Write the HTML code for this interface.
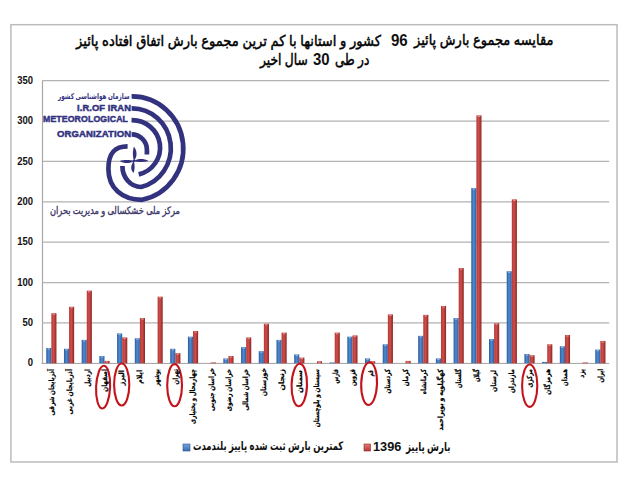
<!DOCTYPE html>
<html><head><meta charset="utf-8">
<style>
html,body{margin:0;padding:0;background:#fff;}
body{width:640px;height:482px;position:relative;overflow:hidden;}
.t{position:absolute;white-space:nowrap;line-height:20px;font-family:"Liberation Sans","DejaVu Sans",sans-serif;}
.lab{position:absolute;white-space:nowrap;direction:rtl;text-align:right;font-family:"Liberation Sans","DejaVu Sans",sans-serif;font-weight:bold;font-size:7.4px;line-height:8px;height:8px;color:#000;-webkit-text-stroke:0.2px #000;transform-origin:100% 0;}
.ya{position:absolute;width:30px;text-align:right;font-family:"Liberation Sans",sans-serif;font-weight:bold;font-size:10.4px;line-height:10px;color:#111;transform:scaleX(0.91);transform-origin:100% 0;}
</style></head><body>

<svg width="640" height="482" viewBox="0 0 640 482" style="position:absolute;left:0;top:0"><defs>
<linearGradient id="gb" x1="0" x2="1" y1="0" y2="0">
<stop offset="0" stop-color="#2b5a98"/><stop offset="0.45" stop-color="#4f8ad0"/><stop offset="1" stop-color="#30619f"/></linearGradient>
<linearGradient id="gr" x1="0" x2="1" y1="0" y2="0">
<stop offset="0" stop-color="#b23a37"/><stop offset="0.45" stop-color="#d04d4a"/><stop offset="1" stop-color="#8a2725"/></linearGradient>
<linearGradient id="gbl" x1="0" x2="0" y1="0" y2="1"><stop offset="0" stop-color="#7aa6dc"/><stop offset="1" stop-color="#3a6cb0"/></linearGradient>
<linearGradient id="grl" x1="0" x2="0" y1="0" y2="1"><stop offset="0" stop-color="#e07a78"/><stop offset="1" stop-color="#b43a37"/></linearGradient>
</defs><rect x="10.9" y="24.7" width="606.1" height="437.3" fill="none" stroke="#bcbcbc" stroke-width="1.5"/><line x1="42.5" y1="80.71" x2="609.2" y2="80.71" stroke="#b2b2b2" stroke-width="1.3"/><line x1="131" y1="121.08" x2="609.2" y2="121.08" stroke="#b2b2b2" stroke-width="1.3"/><line x1="42.5" y1="161.45" x2="609.2" y2="161.45" stroke="#b2b2b2" stroke-width="1.3"/><line x1="42.5" y1="201.82" x2="609.2" y2="201.82" stroke="#b2b2b2" stroke-width="1.3"/><line x1="42.5" y1="242.19" x2="609.2" y2="242.19" stroke="#b2b2b2" stroke-width="1.3"/><line x1="42.5" y1="282.56" x2="609.2" y2="282.56" stroke="#b2b2b2" stroke-width="1.3"/><line x1="42.5" y1="322.93" x2="609.2" y2="322.93" stroke="#b2b2b2" stroke-width="1.3"/><line x1="42.5" y1="80.5" x2="42.5" y2="363.3" stroke="#a8a8a8" stroke-width="1.2"/><line x1="41.5" y1="363.40000000000003" x2="609.2" y2="363.40000000000003" stroke="#a0a0a0" stroke-width="1"/><rect x="46.25" y="347.96" width="5.1" height="15.34" fill="url(#gb)"/><rect x="47.55" y="348.36" width="2.50" height="1.2" fill="#9cc0ea" opacity="0.8"/><rect x="51.35" y="313.24" width="5.1" height="50.06" fill="url(#gr)"/><rect x="52.65" y="313.64" width="2.50" height="1.2" fill="#ec9a98" opacity="0.8"/><rect x="63.96" y="348.77" width="5.1" height="14.53" fill="url(#gb)"/><rect x="65.26" y="349.17" width="2.50" height="1.2" fill="#9cc0ea" opacity="0.8"/><rect x="69.06" y="306.78" width="5.1" height="56.52" fill="url(#gr)"/><rect x="70.36" y="307.18" width="2.50" height="1.2" fill="#ec9a98" opacity="0.8"/><rect x="81.67" y="339.89" width="5.1" height="23.41" fill="url(#gb)"/><rect x="82.97" y="340.29" width="2.50" height="1.2" fill="#9cc0ea" opacity="0.8"/><rect x="86.77" y="290.63" width="5.1" height="72.67" fill="url(#gr)"/><rect x="88.07" y="291.03" width="2.50" height="1.2" fill="#ec9a98" opacity="0.8"/><rect x="99.38" y="356.03" width="5.1" height="7.27" fill="url(#gb)"/><rect x="100.68" y="356.43" width="2.50" height="1.2" fill="#9cc0ea" opacity="0.8"/><rect x="104.48" y="360.88" width="5.1" height="2.42" fill="url(#gr)"/><rect x="105.78" y="361.28" width="2.50" height="1.2" fill="#ec9a98" opacity="0.8"/><rect x="117.09" y="333.43" width="5.1" height="29.87" fill="url(#gb)"/><rect x="118.39" y="333.83" width="2.50" height="1.2" fill="#9cc0ea" opacity="0.8"/><rect x="122.19" y="337.46" width="5.1" height="25.84" fill="url(#gr)"/><rect x="123.49" y="337.86" width="2.50" height="1.2" fill="#ec9a98" opacity="0.8"/><rect x="134.80" y="338.27" width="5.1" height="25.03" fill="url(#gb)"/><rect x="136.10" y="338.67" width="2.50" height="1.2" fill="#9cc0ea" opacity="0.8"/><rect x="139.90" y="318.09" width="5.1" height="45.21" fill="url(#gr)"/><rect x="141.20" y="318.49" width="2.50" height="1.2" fill="#ec9a98" opacity="0.8"/><rect x="157.61" y="296.69" width="5.1" height="66.61" fill="url(#gr)"/><rect x="158.91" y="297.09" width="2.50" height="1.2" fill="#ec9a98" opacity="0.8"/><rect x="170.22" y="348.77" width="5.1" height="14.53" fill="url(#gb)"/><rect x="171.52" y="349.17" width="2.50" height="1.2" fill="#9cc0ea" opacity="0.8"/><rect x="175.32" y="353.21" width="5.1" height="10.09" fill="url(#gr)"/><rect x="176.62" y="353.61" width="2.50" height="1.2" fill="#ec9a98" opacity="0.8"/><rect x="187.93" y="336.66" width="5.1" height="26.64" fill="url(#gb)"/><rect x="189.23" y="337.06" width="2.50" height="1.2" fill="#9cc0ea" opacity="0.8"/><rect x="193.03" y="331.00" width="5.1" height="32.30" fill="url(#gr)"/><rect x="194.33" y="331.40" width="2.50" height="1.2" fill="#ec9a98" opacity="0.8"/><rect x="210.74" y="362.49" width="5.1" height="0.81" fill="url(#gr)"/><rect x="223.35" y="358.46" width="5.1" height="4.84" fill="url(#gb)"/><rect x="224.65" y="358.86" width="2.50" height="1.2" fill="#9cc0ea" opacity="0.8"/><rect x="228.45" y="356.03" width="5.1" height="7.27" fill="url(#gr)"/><rect x="229.75" y="356.43" width="2.50" height="1.2" fill="#ec9a98" opacity="0.8"/><rect x="241.06" y="347.15" width="5.1" height="16.15" fill="url(#gb)"/><rect x="242.36" y="347.55" width="2.50" height="1.2" fill="#9cc0ea" opacity="0.8"/><rect x="246.16" y="337.46" width="5.1" height="25.84" fill="url(#gr)"/><rect x="247.46" y="337.86" width="2.50" height="1.2" fill="#ec9a98" opacity="0.8"/><rect x="258.77" y="351.19" width="5.1" height="12.11" fill="url(#gb)"/><rect x="260.07" y="351.59" width="2.50" height="1.2" fill="#9cc0ea" opacity="0.8"/><rect x="263.87" y="323.74" width="5.1" height="39.56" fill="url(#gr)"/><rect x="265.17" y="324.14" width="2.50" height="1.2" fill="#ec9a98" opacity="0.8"/><rect x="276.48" y="339.89" width="5.1" height="23.41" fill="url(#gb)"/><rect x="277.78" y="340.29" width="2.50" height="1.2" fill="#9cc0ea" opacity="0.8"/><rect x="281.58" y="332.62" width="5.1" height="30.68" fill="url(#gr)"/><rect x="282.88" y="333.02" width="2.50" height="1.2" fill="#ec9a98" opacity="0.8"/><rect x="294.19" y="354.42" width="5.1" height="8.88" fill="url(#gb)"/><rect x="295.49" y="354.82" width="2.50" height="1.2" fill="#9cc0ea" opacity="0.8"/><rect x="299.29" y="357.65" width="5.1" height="5.65" fill="url(#gr)"/><rect x="300.59" y="358.05" width="2.50" height="1.2" fill="#ec9a98" opacity="0.8"/><rect x="317.00" y="361.28" width="5.1" height="2.02" fill="url(#gr)"/><rect x="318.30" y="361.68" width="2.50" height="1.2" fill="#ec9a98" opacity="0.8"/><rect x="329.61" y="362.49" width="5.1" height="0.81" fill="url(#gb)"/><rect x="334.71" y="332.62" width="5.1" height="30.68" fill="url(#gr)"/><rect x="336.01" y="333.02" width="2.50" height="1.2" fill="#ec9a98" opacity="0.8"/><rect x="347.32" y="336.66" width="5.1" height="26.64" fill="url(#gb)"/><rect x="348.62" y="337.06" width="2.50" height="1.2" fill="#9cc0ea" opacity="0.8"/><rect x="352.42" y="335.44" width="5.1" height="27.86" fill="url(#gr)"/><rect x="353.72" y="335.84" width="2.50" height="1.2" fill="#ec9a98" opacity="0.8"/><rect x="365.03" y="358.46" width="5.1" height="4.84" fill="url(#gb)"/><rect x="366.33" y="358.86" width="2.50" height="1.2" fill="#9cc0ea" opacity="0.8"/><rect x="370.13" y="361.28" width="5.1" height="2.02" fill="url(#gr)"/><rect x="371.43" y="361.68" width="2.50" height="1.2" fill="#ec9a98" opacity="0.8"/><rect x="382.74" y="344.33" width="5.1" height="18.97" fill="url(#gb)"/><rect x="384.04" y="344.73" width="2.50" height="1.2" fill="#9cc0ea" opacity="0.8"/><rect x="387.84" y="314.45" width="5.1" height="48.85" fill="url(#gr)"/><rect x="389.14" y="314.85" width="2.50" height="1.2" fill="#ec9a98" opacity="0.8"/><rect x="405.55" y="360.88" width="5.1" height="2.42" fill="url(#gr)"/><rect x="406.85" y="361.28" width="2.50" height="1.2" fill="#ec9a98" opacity="0.8"/><rect x="418.16" y="335.85" width="5.1" height="27.45" fill="url(#gb)"/><rect x="419.46" y="336.25" width="2.50" height="1.2" fill="#9cc0ea" opacity="0.8"/><rect x="423.26" y="314.86" width="5.1" height="48.44" fill="url(#gr)"/><rect x="424.56" y="315.26" width="2.50" height="1.2" fill="#ec9a98" opacity="0.8"/><rect x="435.87" y="358.46" width="5.1" height="4.84" fill="url(#gb)"/><rect x="437.17" y="358.86" width="2.50" height="1.2" fill="#9cc0ea" opacity="0.8"/><rect x="440.97" y="305.97" width="5.1" height="57.33" fill="url(#gr)"/><rect x="442.27" y="306.37" width="2.50" height="1.2" fill="#ec9a98" opacity="0.8"/><rect x="453.58" y="318.09" width="5.1" height="45.21" fill="url(#gb)"/><rect x="454.88" y="318.49" width="2.50" height="1.2" fill="#9cc0ea" opacity="0.8"/><rect x="458.68" y="268.03" width="5.1" height="95.27" fill="url(#gr)"/><rect x="459.98" y="268.43" width="2.50" height="1.2" fill="#ec9a98" opacity="0.8"/><rect x="471.29" y="188.09" width="5.1" height="175.21" fill="url(#gb)"/><rect x="472.59" y="188.49" width="2.50" height="1.2" fill="#9cc0ea" opacity="0.8"/><rect x="476.39" y="115.43" width="5.1" height="247.87" fill="url(#gr)"/><rect x="477.69" y="115.83" width="2.50" height="1.2" fill="#ec9a98" opacity="0.8"/><rect x="489.00" y="339.08" width="5.1" height="24.22" fill="url(#gb)"/><rect x="490.30" y="339.48" width="2.50" height="1.2" fill="#9cc0ea" opacity="0.8"/><rect x="494.10" y="323.33" width="5.1" height="39.97" fill="url(#gr)"/><rect x="495.40" y="323.73" width="2.50" height="1.2" fill="#ec9a98" opacity="0.8"/><rect x="506.71" y="271.26" width="5.1" height="92.04" fill="url(#gb)"/><rect x="508.01" y="271.66" width="2.50" height="1.2" fill="#9cc0ea" opacity="0.8"/><rect x="511.81" y="199.40" width="5.1" height="163.90" fill="url(#gr)"/><rect x="513.11" y="199.80" width="2.50" height="1.2" fill="#ec9a98" opacity="0.8"/><rect x="524.42" y="354.01" width="5.1" height="9.29" fill="url(#gb)"/><rect x="525.72" y="354.41" width="2.50" height="1.2" fill="#9cc0ea" opacity="0.8"/><rect x="529.52" y="355.23" width="5.1" height="8.07" fill="url(#gr)"/><rect x="530.82" y="355.63" width="2.50" height="1.2" fill="#ec9a98" opacity="0.8"/><rect x="542.13" y="361.93" width="5.1" height="1.37" fill="url(#gb)"/><rect x="547.23" y="344.33" width="5.1" height="18.97" fill="url(#gr)"/><rect x="548.53" y="344.73" width="2.50" height="1.2" fill="#ec9a98" opacity="0.8"/><rect x="559.84" y="346.34" width="5.1" height="16.96" fill="url(#gb)"/><rect x="561.14" y="346.74" width="2.50" height="1.2" fill="#9cc0ea" opacity="0.8"/><rect x="564.94" y="335.04" width="5.1" height="28.26" fill="url(#gr)"/><rect x="566.24" y="335.44" width="2.50" height="1.2" fill="#ec9a98" opacity="0.8"/><rect x="582.65" y="362.49" width="5.1" height="0.81" fill="url(#gr)"/><rect x="595.26" y="349.57" width="5.1" height="13.73" fill="url(#gb)"/><rect x="596.56" y="349.97" width="2.50" height="1.2" fill="#9cc0ea" opacity="0.8"/><rect x="600.36" y="340.94" width="5.1" height="22.36" fill="url(#gr)"/><rect x="601.66" y="341.34" width="2.50" height="1.2" fill="#ec9a98" opacity="0.8"/><ellipse cx="103.1" cy="387.1" rx="7.0" ry="21.4" fill="none" stroke="#c4141b" stroke-width="2.1" transform="rotate(2.4 103.1 387.1)"/><ellipse cx="121.7" cy="384.5" rx="7.6" ry="21.0" fill="none" stroke="#c4141b" stroke-width="2.1" transform="rotate(0 121.7 384.5)"/><ellipse cx="174.6" cy="385.2" rx="7.4" ry="21.1" fill="none" stroke="#c4141b" stroke-width="2.1" transform="rotate(0 174.6 385.2)"/><ellipse cx="299.3" cy="385.0" rx="7.699999999999999" ry="21.3" fill="none" stroke="#c4141b" stroke-width="2.1" transform="rotate(1.5 299.3 385.0)"/><ellipse cx="369.1" cy="383.6" rx="7.9" ry="21.4" fill="none" stroke="#c4141b" stroke-width="2.1" transform="rotate(1.7 369.1 383.6)"/><ellipse cx="529.7" cy="385.7" rx="7.6" ry="21.2" fill="none" stroke="#c4141b" stroke-width="2.1" transform="rotate(0 529.7 385.7)"/><rect x="183" y="444" width="7" height="7" fill="url(#gbl)" stroke="#2a5490" stroke-width="0.6"/><rect x="364" y="444" width="6.5" height="7" fill="url(#grl)" stroke="#8c2624" stroke-width="0.6"/><path d="M131.6 96.4 A51.25 52.2 0 0 1 142 199.8 C122 199.8 108.4 188 108.4 169 C108.4 153 114.6 146.4 127.6 146.4" fill="none" stroke="#32327f" stroke-width="4.7"/><path d="M131.6 108.3 A38.9 39.9 0 0 1 141 187 C130.5 187 122.4 177.5 122.4 166" fill="none" stroke="#32327f" stroke-width="4.7"/><path d="M131.6 120.1 A28.1 27.55 0 0 1 138.7 174.4" fill="none" stroke="#32327f" stroke-width="4.7"/><path d="M131.6 134.4 A15.3 15.3 0 0 1 146.9 149.7 L146.9 154.5" fill="none" stroke="#32327f" stroke-width="4.7"/><path d="M0 0 C3.5 -4 3.5 -10 0 -14.4 C-1.4 -10 -1.4 -5 0 0Z" fill="#32327f" transform="translate(133.9 161.0)"/><path d="M0 0 C4 -2.6 10 -2.6 14.6 0 C10 1.3 4 1.3 0 0Z" fill="#32327f" transform="translate(133.9 161.0)"/><path d="M0 0 C-3.5 4 -3.5 9 -0.4 12.1 C1 9 1 4 0 0Z" fill="#32327f" transform="translate(133.9 161.0)"/><path d="M0 0 C-4 2.8 -10 2.8 -14.2 0 C-10 -1.3 -4 -1.3 0 0Z" fill="#32327f" transform="translate(133.9 161.0)"/><circle cx="133.9" cy="161.0" r="1.3" fill="#32327f"/></svg>
<div class="ya" style="left:3.1px;top:75.81px">350</div>
<div class="ya" style="left:3.1px;top:116.18px">300</div>
<div class="ya" style="left:3.1px;top:156.55px">250</div>
<div class="ya" style="left:3.1px;top:196.92px">200</div>
<div class="ya" style="left:3.1px;top:237.29px">150</div>
<div class="ya" style="left:3.1px;top:277.66px">100</div>
<div class="ya" style="left:3.1px;top:318.03px">50</div>
<div class="ya" style="left:3.1px;top:358.40px">0</div>
<div class="lab" id="l0" style="left:-31.94px;top:368.93px;width:80px;transform:rotate(-90deg) scaleX(0.7802)">آذربایجان شرقی</div>
<div class="lab" id="l1" style="left:-14.22px;top:368.90px;width:80px;transform:rotate(-90deg) scaleX(0.8228)">آذربایجان غربی</div>
<div class="lab" id="l2" style="left:3.50px;top:368.98px;width:80px;transform:rotate(-90deg) scaleX(0.7775)">اردبیل</div>
<div class="lab" id="l3" style="left:20.72px;top:368.95px;width:80px;transform:rotate(-90deg) scaleX(0.7876)">اصفهان</div>
<div class="lab" id="l4" style="left:38.44px;top:369.62px;width:80px;transform:rotate(-90deg) scaleX(0.9023)">البرز</div>
<div class="lab" id="l5" style="left:56.16px;top:369.63px;width:80px;transform:rotate(-90deg) scaleX(0.8361)">ایلام</div>
<div class="lab" id="l6" style="left:73.38px;top:368.85px;width:80px;transform:rotate(-90deg) scaleX(0.7037)">بوشهر</div>
<div class="lab" id="l7" style="left:92.10px;top:368.97px;width:80px;transform:rotate(-90deg) scaleX(0.7312)">تهران</div>
<div class="lab" id="l8" style="left:109.32px;top:369.16px;width:80px;transform:rotate(-90deg) scaleX(0.7522)">چهارمحال و بختیاری</div>
<div class="lab" id="l9" style="left:127.54px;top:367.95px;width:80px;transform:rotate(-90deg) scaleX(0.7930)">خراسان جنوبی</div>
<div class="lab" id="l10" style="left:145.26px;top:368.96px;width:80px;transform:rotate(-90deg) scaleX(0.7895)">خراسان رضوی</div>
<div class="lab" id="l11" style="left:162.48px;top:369.23px;width:80px;transform:rotate(-90deg) scaleX(0.7415)">خراسان شمالی</div>
<div class="lab" id="l12" style="left:180.20px;top:367.82px;width:80px;transform:rotate(-90deg) scaleX(0.8429)">خوزستان</div>
<div class="lab" id="l13" style="left:197.92px;top:368.81px;width:80px;transform:rotate(-90deg) scaleX(1.0077)">زنجان</div>
<div class="lab" id="l14" style="left:216.14px;top:369.52px;width:80px;transform:rotate(-90deg) scaleX(0.9494)">سمنان</div>
<div class="lab" id="l15" style="left:233.36px;top:368.93px;width:80px;transform:rotate(-90deg) scaleX(0.7886)">سیستان و بلوچستان</div>
<div class="lab" id="l16" style="left:251.58px;top:369.19px;width:80px;transform:rotate(-90deg) scaleX(0.6601)">فارس</div>
<div class="lab" id="l17" style="left:268.80px;top:369.08px;width:80px;transform:rotate(-90deg) scaleX(0.7252)">قزوین</div>
<div class="lab" id="l18" style="left:286.52px;top:369.69px;width:80px;transform:rotate(-90deg) scaleX(0.6008)">قم</div>
<div class="lab" id="l19" style="left:304.24px;top:368.85px;width:80px;transform:rotate(-90deg) scaleX(0.7671)">کردستان</div>
<div class="lab" id="l20" style="left:321.96px;top:368.86px;width:80px;transform:rotate(-90deg) scaleX(0.7676)">کرمان</div>
<div class="lab" id="l21" style="left:339.68px;top:368.92px;width:80px;transform:rotate(-90deg) scaleX(0.7473)">کرمانشاه</div>
<div class="lab" id="l22" style="left:357.40px;top:368.89px;width:80px;transform:rotate(-90deg) scaleX(0.8557)">کهگیلویه و بویراحمد</div>
<div class="lab" id="l23" style="left:375.12px;top:368.95px;width:80px;transform:rotate(-90deg) scaleX(0.7037)">گلستان</div>
<div class="lab" id="l24" style="left:392.84px;top:369.03px;width:80px;transform:rotate(-90deg) scaleX(0.6735)">گیلان</div>
<div class="lab" id="l25" style="left:410.06px;top:369.73px;width:80px;transform:rotate(-90deg) scaleX(0.8239)">لرستان</div>
<div class="lab" id="l26" style="left:427.78px;top:369.10px;width:80px;transform:rotate(-90deg) scaleX(0.7554)">مازندران</div>
<div class="lab" id="l27" style="left:445.50px;top:368.92px;width:80px;transform:rotate(-90deg) scaleX(0.7428)">مرکزی</div>
<div class="lab" id="l28" style="left:463.72px;top:369.02px;width:80px;transform:rotate(-90deg) scaleX(0.7955)">هرمزگان</div>
<div class="lab" id="l29" style="left:480.94px;top:369.12px;width:80px;transform:rotate(-90deg) scaleX(0.7316)">همدان</div>
<div class="lab" id="l30" style="left:497.66px;top:368.89px;width:80px;transform:rotate(-90deg) scaleX(0.7888)">یزد</div>
<div class="lab" id="l31" style="left:516.88px;top:368.90px;width:80px;transform:rotate(-90deg) scaleX(0.7212)">ایران</div>
<div class="t" id="t1a" style="left:75.58px;top:31.40px;font-size:15px;font-weight:normal;color:#000;-webkit-text-stroke:0.5px #000;direction:rtl;transform-origin:0 0;transform:scaleX(0.8711)">کشور و استانها با کم ترین مجموع بارش اتفاق افتاده پائیز</div>
<div class="t" id="t1n" style="left:391.02px;top:30.90px;font-size:16px;font-weight:bold;color:#111;transform-origin:0 0;transform:scaleX(0.9407)">96</div>
<div class="t" id="t1b" style="left:413.97px;top:30.40px;font-size:15px;font-weight:normal;color:#000;-webkit-text-stroke:0.5px #000;direction:rtl;transform-origin:0 0;transform:scaleX(0.8635)">مقایسه مجموع بارش پائیز</div>
<div class="t" id="t2a" style="left:260.33px;top:50.40px;font-size:15.5px;font-weight:normal;color:#000;-webkit-text-stroke:0.5px #000;direction:rtl;transform-origin:0 0;transform:scaleX(0.7899)">سال اخیر</div>
<div class="t" id="t2n" style="left:312.55px;top:50.00px;font-size:16px;font-weight:bold;color:#111;transform-origin:0 0;transform:scaleX(0.9312)">30</div>
<div class="t" id="t2b" style="left:334.59px;top:49.60px;font-size:15.5px;font-weight:normal;color:#000;-webkit-text-stroke:0.5px #000;direction:rtl;transform-origin:0 0;transform:scaleX(0.7822)">در طی</div>
<div class="t" id="lg1" style="left:192.64px;top:436.40px;font-size:12px;font-weight:bold;color:#111;direction:rtl;transform-origin:0 0;transform:scaleX(0.7042)">کمترین بارش ثبت شده پاییز بلندمدت</div>
<div class="t" id="lg2n" style="left:373.38px;top:437.40px;font-size:12.4px;font-weight:bold;color:#111;transform-origin:0 0;transform:scaleX(1.0283)">1396</div>
<div class="t" id="lg2b" style="left:406.20px;top:437.00px;font-size:12px;font-weight:bold;color:#111;direction:rtl;transform-origin:0 0;transform:scaleX(0.7194)">بارش پاییز</div>
<div class="t" id="lt0" style="left:58.43px;top:86.50px;font-size:8px;font-weight:bold;color:#32327f;direction:rtl;transform-origin:0 0;transform:scaleX(0.7115)">سازمان هواشناسی کشور</div>
<div class="t" id="lt1" style="left:76.77px;top:98.00px;font-size:9.9px;letter-spacing:0.1px;font-weight:bold;color:#32327f;-webkit-text-stroke:0.5px #32327f;transform-origin:0 0;transform:scaleX(0.9475)">I.R.OF IRAN</div>
<div class="t" id="lt2" style="left:43.42px;top:109.40px;font-size:9.9px;letter-spacing:0.1px;font-weight:bold;color:#32327f;-webkit-text-stroke:0.5px #32327f;transform-origin:0 0;transform:scaleX(0.8880)">METEOROLOGICAL</div>
<div class="t" id="lt3" style="left:56.62px;top:123.60px;font-size:9.9px;letter-spacing:0.1px;font-weight:bold;color:#32327f;-webkit-text-stroke:0.5px #32327f;transform-origin:0 0;transform:scaleX(0.9666)">ORGANIZATION</div>
<div class="t" id="lt4" style="left:50.15px;top:201.00px;font-size:10.3px;color:#3b3568;-webkit-text-stroke:0.35px #3b3568;direction:rtl;transform-origin:0 0;transform:scaleX(0.8027)">مرکز ملی خشکسالی و مدیریت بحران</div>
</body></html>
